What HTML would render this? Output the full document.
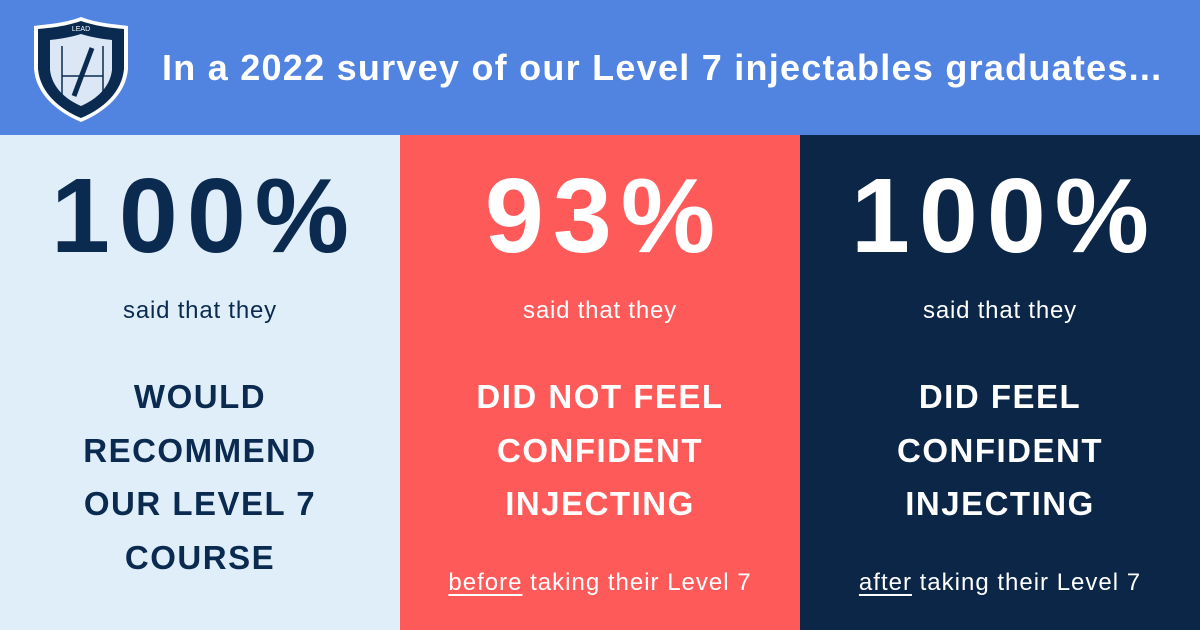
<!DOCTYPE html>
<html><head><style>
body{margin:0;width:1200px;height:630px;overflow:hidden;font-family:"Liberation Sans",sans-serif;}
.hdr{position:absolute;left:0;top:0;width:1200px;height:135px;background:#5183e0;}
.title{position:absolute;left:162px;top:47px;color:#fff;font-weight:bold;font-size:36px;letter-spacing:1.25px;white-space:nowrap;}
.col{position:absolute;top:135px;width:400px;height:495px;text-align:center;}
.big{position:absolute;left:0;width:400px;top:16px;font-weight:bold;font-size:106px;line-height:130px;letter-spacing:9px;text-indent:9px;}
.said{position:absolute;left:0;width:400px;top:162px;font-size:24px;letter-spacing:0.8px;}
.head{position:absolute;left:0;width:400px;top:235px;font-weight:bold;font-size:33px;line-height:53.5px;letter-spacing:1.5px;}
.foot{position:absolute;left:0;width:400px;top:434px;font-size:24px;letter-spacing:1px;}
u{text-underline-offset:4px;}
</style></head><body>
<div class="hdr">
<svg style="position:absolute;left:30px;top:14px" width="102" height="112" viewBox="0 0 102 112">
<path d="M51 3 C70 10 85 10 98 12 L98 55 C96 80 75 98 51 108 C27 98 6 80 4 55 L4 12 C17 10 32 10 51 3Z" fill="#fff"/>
<path d="M51 7 C69 13 83 14 94 15 L94 55 C92 78 73 95 51 104 C29 95 10 78 8 55 L8 15 C19 14 33 13 51 7Z" fill="#0b2a4f"/>
<path d="M51 20 C64 24 74 25 82 26 L82 56 C80 73 67 85 51 92 C35 85 22 73 20 56 L20 26 C28 25 38 24 51 20Z" fill="#dce7f5"/>
<line x1="32" y1="32" x2="32" y2="86" stroke="#0b2a4f" stroke-width="1.5"/>
<line x1="73" y1="32" x2="73" y2="86" stroke="#0b2a4f" stroke-width="1.5"/>
<line x1="32" y1="62" x2="73" y2="62" stroke="#0b2a4f" stroke-width="1.5"/>
<line x1="62" y1="34" x2="44" y2="82" stroke="#0b2a4f" stroke-width="5"/>
<text x="51" y="17" fill="#fff" font-size="7" text-anchor="middle" font-family="Liberation Sans">LEAD</text>
</svg>
<div class="title">In a 2022 survey of our Level 7 injectables graduates...</div>
</div>
<div class="col" style="left:0;background:#e0eefa;color:#0b2a4f">
<div class="big">100%</div><div class="said">said that they</div>
<div class="head">WOULD<br>RECOMMEND<br>OUR LEVEL 7<br>COURSE</div>
</div>
<div class="col" style="left:400px;background:#ff5a5a;color:#fff">
<div class="big">93%</div><div class="said">said that they</div>
<div class="head">DID NOT FEEL<br>CONFIDENT<br>INJECTING</div>
<div class="foot"><u>before</u> taking their Level 7</div>
</div>
<div class="col" style="left:800px;background:#0b2647;color:#fff">
<div class="big">100%</div><div class="said">said that they</div>
<div class="head">DID FEEL<br>CONFIDENT<br>INJECTING</div>
<div class="foot"><u>after</u> taking their Level 7</div>
</div>
</body></html>
